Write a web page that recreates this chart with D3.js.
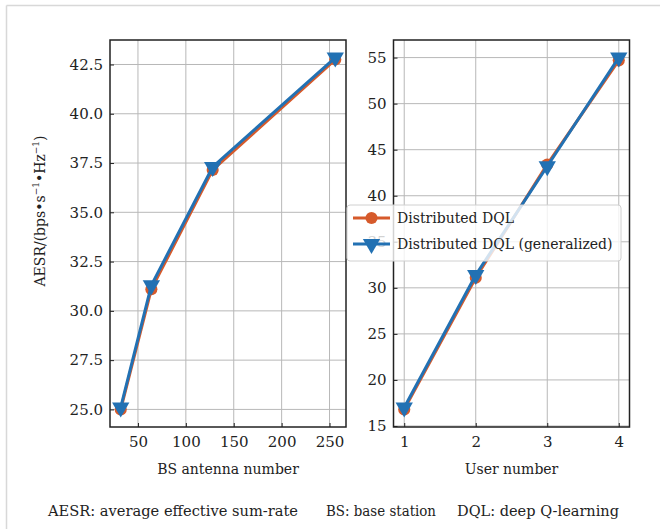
<!DOCTYPE html>
<html>

<head>
    <meta charset="utf-8">
    <script src="https://d3js.org/d3.v7.min.js"></script>
    <style>
        body { margin: 0; background: #fff; }
        svg text { fill: #222; }
    </style>
</head>

<body>
    <div id="my_dataviz"></div>
    <script>
    // data
    var antennas = [32, 64, 128, 256];
    var antDql = [25.0, 31.1, 37.15, 42.75];
    var antDqlGen = [25.1, 31.3, 37.3, 42.85];
    var antTicks = [50, 100, 150, 200, 250];
    var antYTicks = [25.0, 27.5, 30.0, 32.5, 35.0, 37.5, 40.0, 42.5];

    var users = [1, 2, 3, 4];
    var userDql = [16.8, 31.1, 43.4, 54.7];
    var userDqlGen = [17.0, 31.4, 43.2, 55.0];
    var userTicks = [1, 2, 3, 4];
    var userYTicks = [15, 20, 25, 30, 35, 40, 45, 50, 55];

    var seriesNames = ["Distributed DQL", "Distributed DQL (generalized)"];
    var colors = ["#d65a2b", "#2271b3"];
    var captions = ["AESR: average effective sum-rate", "BS: base station", "DQL: deep Q-learning"];

    var width = 660, height = 529;
    var serif = "DejaVu Serif";

    var svg = d3.select("#my_dataviz")
        .append("svg")
        .attr("width", width)
        .attr("height", height)
        .attr("font-family", serif);

    // outer frame (light gray, top and left)
    svg.append("line").attr("x1", 6.5).attr("x2", width).attr("y1", 5.5).attr("y2", 5.5)
        .style("stroke", "#d8d8d8").style("stroke-width", 1.5);
    svg.append("line").attr("x1", 6.5).attr("x2", 6.5).attr("y1", 5.5).attr("y2", height)
        .style("stroke", "#d8d8d8").style("stroke-width", 1.5);

    // matplotlib-like 5% margins
    function pad(ext) {
        var d = (ext[1] - ext[0]) * 0.05;
        return [ext[0] - d, ext[1] + d];
    }

    function panel(opt) {
        var x = d3.scaleLinear().domain(pad(d3.extent(opt.xs))).range([opt.left, opt.right]);
        var allY = opt.series[0].concat(opt.series[1]);
        var y = d3.scaleLinear().domain(pad(d3.extent(allY))).range([opt.bottom, opt.top]);

        var g = svg.append("g");

        // grid
        g.selectAll(".vg").data(opt.xTicks).enter().append("line")
            .attr("x1", d => x(d)).attr("x2", d => x(d))
            .attr("y1", opt.top).attr("y2", opt.bottom)
            .style("stroke", "#b8b8b8").style("stroke-width", 1);
        g.selectAll(".hg").data(opt.yTicks).enter().append("line")
            .attr("x1", opt.left).attr("x2", opt.right)
            .attr("y1", d => y(d)).attr("y2", d => y(d))
            .style("stroke", "#b8b8b8").style("stroke-width", 1);

        // axes with inward ticks
        var xAxis = g.append("g").attr("transform", "translate(0," + opt.bottom + ")")
            .call(d3.axisBottom(x).tickValues(opt.xTicks).tickSizeInner(-4).tickSizeOuter(0).tickPadding(9).tickFormat(opt.xFmt));
        var yAxis = g.append("g").attr("transform", "translate(" + opt.left + ",0)")
            .call(d3.axisLeft(y).tickValues(opt.yTicks).tickSizeInner(-4).tickSizeOuter(0).tickPadding(7).tickFormat(opt.yFmt));
        [xAxis, yAxis].forEach(function(a) {
            a.attr("font-family", serif).attr("font-size", 15);
            a.select(".domain").remove();
            a.selectAll("line").style("stroke", "#222").style("stroke-width", 1);
            a.selectAll("text").style("fill", "#222");
        });

        // frame
        g.append("rect").attr("x", opt.left).attr("y", opt.top)
            .attr("width", opt.right - opt.left).attr("height", opt.bottom - opt.top)
            .style("fill", "none").style("stroke", "#222").style("stroke-width", 1.5);

        var line = d3.line().x((d, i) => x(opt.xs[i])).y(d => y(d));

        opt.series.forEach(function(vals, k) {
            g.append("path").datum(vals).attr("d", line)
                .style("fill", "none").style("stroke", colors[k]).style("stroke-width", 3);
            var sym = k == 0 ? d3.symbolCircle : d3.symbolTriangle;
            var size = k == 0 ? 115 : 130;
            g.selectAll(".m" + k).data(vals).enter().append("path")
                .attr("d", d3.symbol().type(sym).size(size))
                .attr("transform", (d, i) => "translate(" + x(opt.xs[i]) + "," + y(d) + ")" + (k == 1 ? " rotate(180)" : ""))
                .style("fill", colors[k]);
        });

        g.append("text").attr("x", (opt.left + opt.right) / 2).attr("y", 474)
            .attr("text-anchor", "middle").attr("font-size", 14).text(opt.xLabel);

        return { x: x, y: y };
    }

    panel({
        left: 110, right: 346, top: 40, bottom: 427,
        xs: antennas, series: [antDql, antDqlGen],
        xTicks: antTicks, yTicks: antYTicks,
        xFmt: d3.format("d"), yFmt: d3.format(".1f"),
        xLabel: "BS antenna number"
    });

    panel({
        left: 393.5, right: 629.5, top: 40, bottom: 427,
        xs: users, series: [userDql, userDqlGen],
        xTicks: userTicks, yTicks: userYTicks,
        xFmt: d3.format("d"), yFmt: d3.format("d"),
        xLabel: "User number"
    });

    // y label with superscripts
    var yl = svg.append("text")
        .attr("transform", "translate(45,211) rotate(-90)")
        .attr("text-anchor", "middle")
        .attr("font-size", 14);
    yl.append("tspan").text("AESR/(bps\u2022s");
    yl.append("tspan").attr("dy", -6).attr("font-size", 9).text("\u22121");
    yl.append("tspan").attr("dy", 6).text("\u2022Hz");
    yl.append("tspan").attr("dy", -6).attr("font-size", 9).text("\u22121");
    yl.append("tspan").attr("dy", 6).text(")");

    // legend
    var lg = svg.append("g").attr("transform", "translate(347,205)");
    lg.append("rect").attr("width", 274).attr("height", 56).attr("rx", 3)
        .style("fill", "#fff").style("fill-opacity", 0.8)
        .style("stroke", "#d0d0d0").style("stroke-width", 1);
    seriesNames.forEach(function(name, k) {
        var yy = 13 + k * 26;
        lg.append("line").attr("x1", 6).attr("x2", 43).attr("y1", yy).attr("y2", yy)
            .style("stroke", colors[k]).style("stroke-width", 3);
        lg.append("path")
            .attr("d", d3.symbol().type(k == 0 ? d3.symbolCircle : d3.symbolTriangle).size(k == 0 ? 115 : 130))
            .attr("transform", "translate(24.5," + yy + ")" + (k == 1 ? " rotate(180)" : ""))
            .style("fill", colors[k]);
        lg.append("text").attr("x", 50).attr("y", yy + 5)
            .attr("font-size", 14).text(name);
    });

    // caption
    var capX = [48, 326, 457];
    var capW = [250, 110, 162];
    svg.selectAll(".cap").data(captions).enter().append("text")
        .attr("x", (d, i) => capX[i]).attr("y", 516)
        .attr("textLength", (d, i) => capW[i])
        .attr("lengthAdjust", "spacingAndGlyphs")
        .attr("font-size", 14.5)
        .text(d => d);
    </script>
</body>

</html>
